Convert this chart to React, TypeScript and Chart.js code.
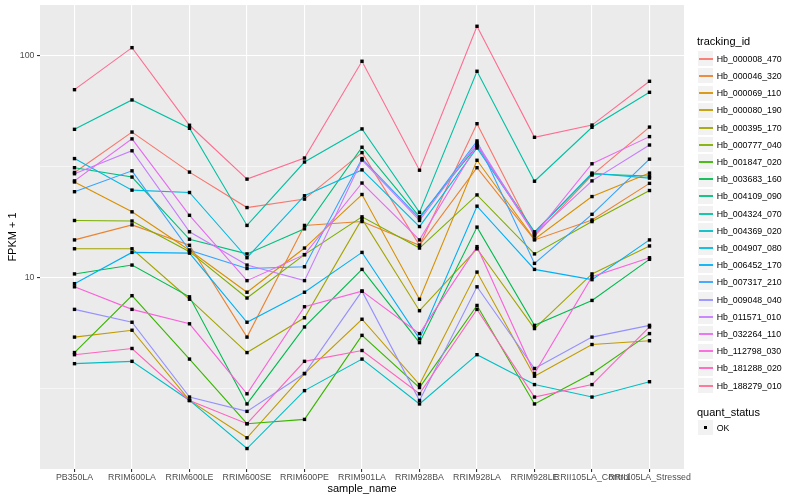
import React, { useEffect, useRef } from "react";
import { Chart, registerables } from "chart.js";

Chart.register(...registerables);

// ---- data ----
const categories = [
  "PB350LA",
  "RRIM600LA",
  "RRIM600LE",
  "RRIM600SE",
  "RRIM600PE",
  "RRIM901LA",
  "RRIM928BA",
  "RRIM928LA",
  "RRIM928LE",
  "RRII105LA_Control",
  "RRII105LA_Stressed",
];

const trackingIds = [
  "Hb_000008_470",
  "Hb_000046_320",
  "Hb_000069_110",
  "Hb_000080_190",
  "Hb_000395_170",
  "Hb_000777_040",
  "Hb_001847_020",
  "Hb_003683_160",
  "Hb_004109_090",
  "Hb_004324_070",
  "Hb_004369_020",
  "Hb_004907_080",
  "Hb_006452_170",
  "Hb_007317_210",
  "Hb_009048_040",
  "Hb_011571_010",
  "Hb_032264_110",
  "Hb_112798_030",
  "Hb_181288_020",
  "Hb_188279_010",
];

const seriesColors = [
  "#F8766D", "#EA8331", "#D89000", "#C09B00", "#A3A500",
  "#7CAE00", "#39B600", "#00BB4E", "#00BF7D", "#00C1A3",
  "#00BFC4", "#00BAE0", "#00B0F6", "#35A2FF", "#9590FF",
  "#C77CFF", "#E76BF3", "#FA62DB", "#FF62BC", "#FF6C91",
];

const hb000008_470 = [29.8, 45.3, 29.9, 20.7, 22.6, 36.6, 14.0, 49.4, 15.4, 29.0, 47.7];
const hb000046_320 = [14.8, 17.3, 14.0, 5.4, 17.2, 17.9, 14.0, 31.3, 14.8, 18.2, 26.6];
const hb000069_110 = [27.0, 19.8, 13.3, 8.6, 13.6, 23.7, 8.0, 33.8, 14.9, 23.2, 29.6];
const hb000080_190 = [5.4, 5.8, 2.8, 1.9, 3.7, 6.5, 3.3, 10.6, 3.6, 5.0, 5.2];
const hb000395_170 = [13.5, 13.5, 8.0, 4.6, 6.6, 18.4, 7.1, 13.5, 5.9, 10.4, 13.9];
const hb000777_040 = [18.1, 18.0, 13.1, 8.1, 12.7, 18.8, 13.6, 23.6, 12.8, 17.9, 24.7];
const hb001847_020 = [4.6, 8.3, 4.3, 2.2, 2.3, 5.5, 3.2, 7.5, 2.7, 3.7, 5.6];
const hb003683_160 = [10.4, 11.4, 8.2, 2.7, 6.0, 10.9, 5.1, 16.9, 6.1, 7.9, 12.1];
const hb004109_090 = [31.3, 28.4, 14.9, 12.8, 16.6, 38.7, 18.8, 39.2, 16.1, 29.3, 28.7];
const hb004324_070 = [46.6, 63.2, 47.1, 17.2, 33.2, 46.8, 19.7, 85.1, 27.2, 47.6, 68.4];
const hb004369_020 = [4.1, 4.2, 2.8, 1.7, 3.1, 4.3, 2.7, 4.5, 3.3, 2.9, 3.4];
const hb004907_080 = [34.4, 24.8, 24.2, 12.3, 23.4, 30.6, 17.0, 38.4, 15.9, 29.6, 28.1];
const hb006452_170 = [9.4, 13.0, 12.9, 6.3, 8.6, 13.0, 5.3, 21.0, 10.9, 9.8, 14.8];
const hb007317_210 = [24.4, 30.3, 13.3, 11.0, 11.2, 34.4, 18.5, 41.3, 11.6, 19.3, 34.2];
const hb009048_040 = [7.2, 6.3, 2.9, 2.5, 3.7, 8.7, 2.8, 9.1, 3.9, 5.4, 6.1];
const hb011571_010 = [29.4, 37.3, 16.1, 11.4, 9.7, 33.9, 18.1, 40.4, 15.7, 27.3, 39.6];
const hb032264_110 = [27.3, 42.2, 19.1, 9.7, 12.7, 26.7, 14.8, 39.6, 15.6, 32.6, 43.2];
const hb112798_030 = [9.1, 7.2, 6.2, 3.0, 7.4, 8.7, 5.6, 13.8, 3.7, 10.1, 12.3];
const hb181288_020 = [4.5, 4.8, 2.8, 2.2, 4.2, 4.7, 3.0, 7.2, 2.9, 3.3, 6.0];
const hb188279_010 = [70.3, 108.7, 48.6, 27.8, 34.6, 94.4, 30.5, 135.7, 42.9, 48.7, 76.7];

const seriesValues = [
  hb000008_470, hb000046_320, hb000069_110, hb000080_190, hb000395_170,
  hb000777_040, hb001847_020, hb003683_160, hb004109_090, hb004324_070,
  hb004369_020, hb004907_080, hb006452_170, hb007317_210, hb009048_040,
  hb011571_010, hb032264_110, hb112798_030, hb181288_020, hb188279_010,
];

const yMajorTicks = [10, 100];
const yMinorTicks = [3.1623, 31.623];
const yRange = [1.375, 169.2];
const quantStatus = ["OK"];

const FONT = "'Liberation Sans', Arial, Helvetica, sans-serif";

const panelBackground = {
  id: "panelBackground",
  beforeDraw(chart: any) {
    const { ctx, chartArea } = chart;
    ctx.save();
    ctx.fillStyle = "#EBEBEB";
    ctx.fillRect(chartArea.left, chartArea.top, chartArea.width, chartArea.height);
    ctx.restore();
  },
};

const squarePoints = {
  id: "squarePoints",
  afterDatasetsDraw(chart: any) {
    const { ctx } = chart;
    ctx.save();
    ctx.fillStyle = "#000000";
    chart.data.datasets.forEach((_: any, i: number) => {
      const meta = chart.getDatasetMeta(i);
      meta.data.forEach((pt: any) => {
        ctx.fillRect(pt.x - 1.7, pt.y - 1.7, 3.4, 3.4);
      });
    });
    ctx.restore();
  },
};

function LegendPanel() {
  const keySize = 17.2;
  const first = 58.7;
  return (
    <div style={{ position: "absolute", left: 0, top: 0, width: 800, height: 500, pointerEvents: "none", fontFamily: FONT }}>
      <div style={{ position: "absolute", left: 697, top: 33.7, fontSize: 11, lineHeight: "14px", color: "#000" }}>
        tracking_id
      </div>
      {trackingIds.map((id, i) => {
        const cy = first + i * keySize;
        return (
          <React.Fragment key={id}>
            <div
              style={{
                position: "absolute",
                left: 697,
                top: cy - keySize / 2,
                width: keySize,
                height: keySize,
                background: "#F2F2F2",
                border: "1px solid #FFFFFF",
                boxSizing: "border-box",
              }}
            />
            <div
              style={{
                position: "absolute",
                left: 698.5,
                top: Math.round(cy) - 1,
                width: 14.2,
                height: 2,
                background: seriesColors[i],
                opacity: 0.9,
              }}
            />
            <div
              style={{
                position: "absolute",
                left: 716.7,
                top: cy - 6,
                fontSize: 8.8,
                lineHeight: "12px",
                color: "#000",
                whiteSpace: "nowrap",
              }}
            >
              {id}
            </div>
          </React.Fragment>
        );
      })}
      <div style={{ position: "absolute", left: 697, top: 405.3, fontSize: 11, lineHeight: "14px", color: "#000" }}>
        quant_status
      </div>
      {quantStatus.map((q, i) => {
        const cy = 427.7 + i * keySize;
        return (
          <React.Fragment key={q}>
            <div
              style={{
                position: "absolute",
                left: 697,
                top: cy - keySize / 2,
                width: keySize,
                height: keySize,
                background: "#F2F2F2",
                border: "1px solid #FFFFFF",
                boxSizing: "border-box",
              }}
            />
            <div
              style={{
                position: "absolute",
                left: 697 + keySize / 2 - 1.7,
                top: cy - 1.7,
                width: 3.4,
                height: 3.4,
                background: "#000",
              }}
            />
            <div
              style={{
                position: "absolute",
                left: 716.7,
                top: cy - 6,
                fontSize: 8.8,
                lineHeight: "12px",
                color: "#000",
              }}
            >
              {q}
            </div>
          </React.Fragment>
        );
      })}
    </div>
  );
}

export default function App() {
  const canvasRef = useRef<HTMLCanvasElement | null>(null);

  useEffect(() => {
    if (!canvasRef.current) return;
    Chart.defaults.font.family = FONT;
    const isMajor = (v: number) => yMajorTicks.some((m) => Math.abs(m - v) < 1e-6);

    const datasets = trackingIds.map((id, i) => ({
      label: id,
      data: seriesValues[i].map((v, j) => ({ x: j + 1, y: v })),
      borderColor: seriesColors[i],
      backgroundColor: seriesColors[i],
      borderWidth: 1.1,
      pointRadius: 0,
      pointHoverRadius: 0,
      tension: 0,
      fill: false,
      order: trackingIds.length - i,
    }));

    const chart = new Chart(canvasRef.current, {
      type: "line",
      data: { datasets },
      plugins: [panelBackground, squarePoints],
      options: {
        animation: false,
        responsive: false,
        events: [],
        layout: { padding: { left: 0, top: 5, right: 116, bottom: 0 } },
        plugins: {
          legend: { display: false },
          tooltip: { enabled: false },
        },
        scales: {
          x: {
            type: "linear",
            min: 0.4,
            max: 11.6,
            bounds: "data",
            afterBuildTicks: (scale: any) => {
              scale.ticks = categories.map((_, i) => ({ value: i + 1 }));
            },
            afterFit: (scale: any) => {
              scale.height = 31;
            },
            ticks: {
              autoSkip: false,
              maxRotation: 0,
              minRotation: 0,
              padding: 0,
              color: "#4D4D4D",
              font: { size: 8.8 },
              callback: (v: any) => categories[Math.round(Number(v)) - 1] ?? "",
            },
            grid: {
              color: "#FFFFFF",
              lineWidth: 1.1,
              tickLength: 3,
              tickColor: "#333333",
              tickWidth: 1.1,
            },
            border: { display: false },
            title: {
              display: true,
              text: "sample_name",
              color: "#000000",
              font: { size: 11 },
              padding: { top: 0, bottom: 4.4 },
            },
          },
          y: {
            type: "logarithmic",
            min: yRange[0],
            max: yRange[1],
            bounds: "data",
            afterBuildTicks: (scale: any) => {
              scale.ticks = [...yMinorTicks, ...yMajorTicks]
                .sort((a, b) => a - b)
                .map((v) => ({ value: v }));
            },
            afterFit: (scale: any) => {
              scale.width = 40;
              scale.paddingTop = 0;
              scale.paddingBottom = 0;
            },
            ticks: {
              autoSkip: false,
              padding: 2.5,
              color: "#4D4D4D",
              font: { size: 8.8 },
              callback: (v: any) => (isMajor(Number(v)) ? String(Math.round(Number(v))) : ""),
            },
            grid: {
              color: "#FFFFFF",
              lineWidth: (ctx: any) => (ctx.tick && isMajor(ctx.tick.value) ? 1.1 : 0.55),
              tickLength: 3,
              tickWidth: 1.1,
              tickColor: (ctx: any) =>
                ctx.tick && isMajor(ctx.tick.value) ? "#333333" : "rgba(0,0,0,0)",
            },
            border: { display: false },
            title: {
              display: true,
              text: "FPKM + 1",
              color: "#000000",
              font: { size: 11 },
              padding: { top: 6.7, bottom: 0 },
            },
          },
        },
      } as any,
    });

    return () => chart.destroy();
  }, []);

  return (
    <div style={{ position: "absolute", left: 0, top: 0, width: 800, height: 500, background: "#FFFFFF" }}>
      <canvas ref={canvasRef} width={800} height={500} style={{ position: "absolute", left: 0, top: 0, width: 800, height: 500 }} />
      <LegendPanel />
    </div>
  );
}
